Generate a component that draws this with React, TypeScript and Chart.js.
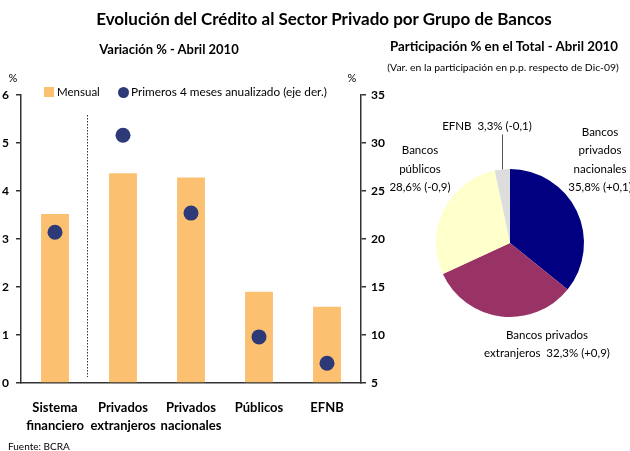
import React, { useEffect, useRef } from "react";
import { Chart, registerables } from "chart.js";
Chart.register(...registerables);

const FONT = "Lato, 'Open Sans', sans-serif";

const categories = [["Sistema", "financiero"], ["Privados", "extranjeros"], ["Privados", "nacionales"], ["Públicos"], ["EFNB"]];
const mensual = [3.52, 4.37, 4.28, 1.9, 1.59];
const anualizado = [20.7, 30.8, 22.7, 9.8, 7.05];
const leftTickMin = 0;
const leftTickMax = 6;
const rightTickMin = 5;
const rightTickMax = 35;

const pieNames = ["Bancos privados nacionales", "Bancos privados extranjeros", "Bancos públicos", "EFNB"];
const pieShares = [35.8, 32.3, 28.6, 3.3];
const pieChanges = ["+0,1", "+0,9", "-0,9", "-0,1"];
const pieColors = ["#000080", "#993366", "#FFFFCC", "#DDDDDD"];

const fmt = (i: number) => `${pieShares[i].toFixed(1).replace(".", ",")}% (${pieChanges[i]})`;

const Txt = ({ x, y, size, bold, align, children }: any) => (
  <div
    style={{
      position: "absolute",
      left: x,
      top: y,
      transform: `translate(${align === "left" ? "0" : "-50%"}, -50%)`,
      fontFamily: FONT,
      fontSize: size,
      fontWeight: bold ? 700 : 400,
      lineHeight: 1,
      whiteSpace: "pre",
      color: "#000",
      textAlign: "center",
    }}
  >
    {children}
  </div>
);

const Multi = ({ x, y, size, lines, lh }: any) => (
  <>
    {lines.map((l: string, i: number) => (
      <Txt key={i} x={x} y={y + i * lh} size={size}>
        {l}
      </Txt>
    ))}
  </>
);

export default function App() {
  const barRef = useRef<HTMLCanvasElement>(null);
  const pieRef = useRef<HTMLCanvasElement>(null);

  useEffect(() => {
    const dividerPlugin = {
      id: "divider",
      afterDatasetsDraw(chart: any) {
        const xs = chart.scales.x;
        const ca = chart.chartArea;
        const x = (xs.getPixelForValue(0) + xs.getPixelForValue(1)) / 2 - 2;
        const ctx = chart.ctx;
        ctx.save();
        ctx.strokeStyle = "#333";
        ctx.lineWidth = 1;
        ctx.setLineDash([1.5, 1.5]);
        ctx.beginPath();
        ctx.moveTo(Math.round(x) + 0.5, ca.top + 20);
        ctx.lineTo(Math.round(x) + 0.5, ca.bottom - 6);
        ctx.stroke();
        ctx.restore();
      },
    };
    const tickFont = { family: FONT, size: 12, weight: "bold" as const };
    const bar = new Chart(barRef.current!, {
      type: "bar",
      data: {
        labels: categories as any,
        datasets: [
          {
            type: "bar",
            label: "Mensual",
            data: mensual,
            backgroundColor: "#FBC170",
            yAxisID: "y",
            barPercentage: 0.41,
            categoryPercentage: 1,
            order: 2,
          } as any,
          {
            type: "line",
            label: "Primeros 4 meses anualizado (eje der.)",
            data: anualizado,
            yAxisID: "y1",
            showLine: false,
            pointRadius: 7.5,
            pointBackgroundColor: "#2E3A78",
            pointBorderColor: "#2E3A78",
            pointBorderWidth: 0,
            order: 1,
          } as any,
        ],
      },
      options: {
        responsive: false,
        animation: false,
        layout: { padding: { top: 95, left: 0, right: 0, bottom: 0 } },
        plugins: { legend: { display: false }, tooltip: { enabled: false } },
        scales: {
          x: {
            grid: { display: false, drawTicks: false },
            border: { display: true, color: "#333", width: 1.5 },
            ticks: {
              font: { family: FONT, size: 13, weight: "bold", lineHeight: 1.35 },
              color: "#000",
              padding: 16,
              maxRotation: 0,
              autoSkip: false,
            },
            afterFit(s: any) {
              s.height = 68;
            },
          },
          y: {
            position: "left",
            min: leftTickMin,
            max: leftTickMax,
            ticks: { stepSize: 1, font: tickFont, color: "#000", padding: 7 },
            grid: { drawOnChartArea: false, tickLength: 5, color: "#333", lineWidth: 1.5 },
            border: { display: true, color: "#333", width: 1.5 },
            afterFit(s: any) {
              s.width = 21;
            },
          },
          y1: {
            position: "right",
            min: rightTickMin,
            max: rightTickMax,
            ticks: { stepSize: 5, font: tickFont, color: "#000", padding: 5 },
            grid: { drawOnChartArea: false, tickLength: 5, color: "#333", lineWidth: 1.5 },
            border: { display: true, color: "#333", width: 1.5 },
            afterFit(s: any) {
              s.width = 29;
            },
          },
        },
      } as any,
      plugins: [dividerPlugin],
    });

    const leaderPlugin = {
      id: "leader",
      afterDatasetsDraw(chart: any) {
        const arc = chart.getDatasetMeta(0).data[3];
        if (!arc) return;
        const mid = (arc.startAngle + arc.endAngle) / 2;
        const px = arc.x + Math.cos(mid) * arc.outerRadius;
        const py = arc.y + Math.sin(mid) * arc.outerRadius;
        const ctx = chart.ctx;
        ctx.save();
        ctx.strokeStyle = "#555";
        ctx.lineWidth = 1;
        ctx.beginPath();
        ctx.moveTo(Math.round(px) + 0.5, py);
        ctx.lineTo(Math.round(px) + 0.5, py - 35);
        ctx.stroke();
        ctx.restore();
      },
    };

    const pie = new Chart(pieRef.current!, {
      type: "pie",
      data: {
        labels: pieNames,
        datasets: [
          {
            data: pieShares,
            backgroundColor: pieColors,
            borderWidth: 0,
          },
        ],
      },
      options: {
        responsive: false,
        animation: false,
        layout: { padding: { left: 46, right: 46, top: 169, bottom: 134 } },
        plugins: { legend: { display: false }, tooltip: { enabled: false } },
      } as any,
      plugins: [leaderPlugin],
    });

    return () => {
      bar.destroy();
      pie.destroy();
    };
  }, []);

  return (
    <div
      style={{
        position: "absolute",
        left: 0,
        top: 0,
        width: 630,
        height: 451,
        overflow: "hidden",
        background: "#fff",
      }}
    >
      <canvas ref={barRef} width={390} height={451} style={{ position: "absolute", left: 0, top: 0 }} />
      <canvas ref={pieRef} width={240} height={451} style={{ position: "absolute", left: 390, top: 0 }} />

      <Txt x={324} y={18} size={17} bold>
        Evolución del Crédito al Sector Privado por Grupo de Bancos
      </Txt>
      <Txt x={169} y={49} size={13} bold>
        Variación % - Abril 2010
      </Txt>
      <Txt x={504} y={47} size={13.3} bold>
        Participación % en el Total - Abril 2010
      </Txt>
      <Txt x={503} y={67} size={10.4}>
        (Var. en la participación en p.p. respecto de Dic-09)
      </Txt>
      <Txt x={13} y={77} size={11}>
        %
      </Txt>
      <Txt x={352} y={77} size={11}>
        %
      </Txt>

      <div style={{ position: "absolute", left: 44, top: 87, width: 10, height: 10, background: "#FBC170" }} />
      <Txt x={57} y={92} size={11.5} align="left">
        Mensual
      </Txt>
      <div
        style={{
          position: "absolute",
          left: 117.5,
          top: 86.5,
          width: 11,
          height: 11,
          borderRadius: "50%",
          background: "#2E3A78",
        }}
      />
      <Txt x={131} y={92} size={11.8} align="left">
        Primeros 4 meses anualizado (eje der.)
      </Txt>

      <Txt x={8} y={446} size={10} align="left">
        Fuente: BCRA
      </Txt>

      <Txt x={487} y={126} size={11.5}>
        {`EFNB  ${fmt(3)}`}
      </Txt>
      <Multi x={420} y={150} size={11.5} lh={18.5} lines={["Bancos", "públicos", fmt(2)]} />
      <Multi x={600} y={132} size={11.5} lh={18.3} lines={["Bancos", "privados", "nacionales", fmt(0)]} />
      <Multi x={547} y={335} size={11.5} lh={18} lines={["Bancos privados", `extranjeros  ${fmt(1)}`]} />
    </div>
  );
}
